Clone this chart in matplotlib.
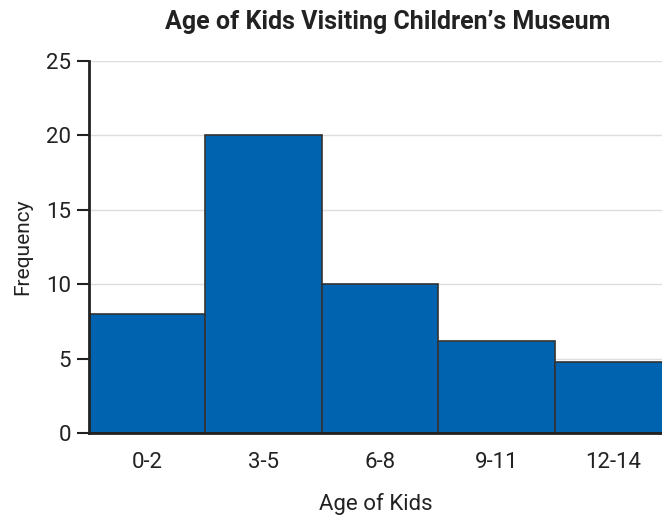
import matplotlib.pyplot as plt

ages = ["0-2", "3-5", "6-8", "9-11", "12-14"]
freq = [8, 20, 10, 6.2, 4.8]
yticks = [0, 5, 10, 15, 20, 25]

plt.rcParams['font.family'] = ['Roboto', 'DejaVu Sans']

fig = plt.figure(figsize=(6.62, 5.21), dpi=100)
ax = fig.add_axes([0.1344, 0.169, 0.8656, 0.714])

pos = list(range(len(ages)))
ax.bar(pos, freq, width=1, align='edge', color='#0063b0',
       edgecolor='#333333', linewidth=1.2, zorder=3)

ax.set_xlim(0, 4.92)
ax.set_ylim(0, 25)
ax.set_yticks(yticks)
ax.set_xticks([p + 0.5 for p in pos])
ax.set_xticklabels(ages)
ax.grid(axis='y', color='#dddddd', linewidth=1, zorder=0)

for s in ['top', 'right']:
    ax.spines[s].set_visible(False)
for s in ['left', 'bottom']:
    ax.spines[s].set_color('#222222')
    ax.spines[s].set_linewidth(2)
    ax.spines[s].set_zorder(4)

ax.tick_params(axis='y', length=9, width=1.5, color='#222222',
               labelsize=16, labelcolor='#222222', pad=4)
ax.tick_params(axis='x', length=0, labelsize=16, labelcolor='#222222', pad=14)

ax.set_xlabel("Age of Kids", fontsize=16, color='#222222', labelpad=14)
ax.set_ylabel("Frequency", fontsize=15, color='#222222', labelpad=10)
fig.text(0.585, 0.958, "Age of Kids Visiting Children\u2019s Museum",
         fontsize=18, fontweight='bold', color='#222222',
         ha='center', va='center')

fig.savefig("out.png", dpi=100)
